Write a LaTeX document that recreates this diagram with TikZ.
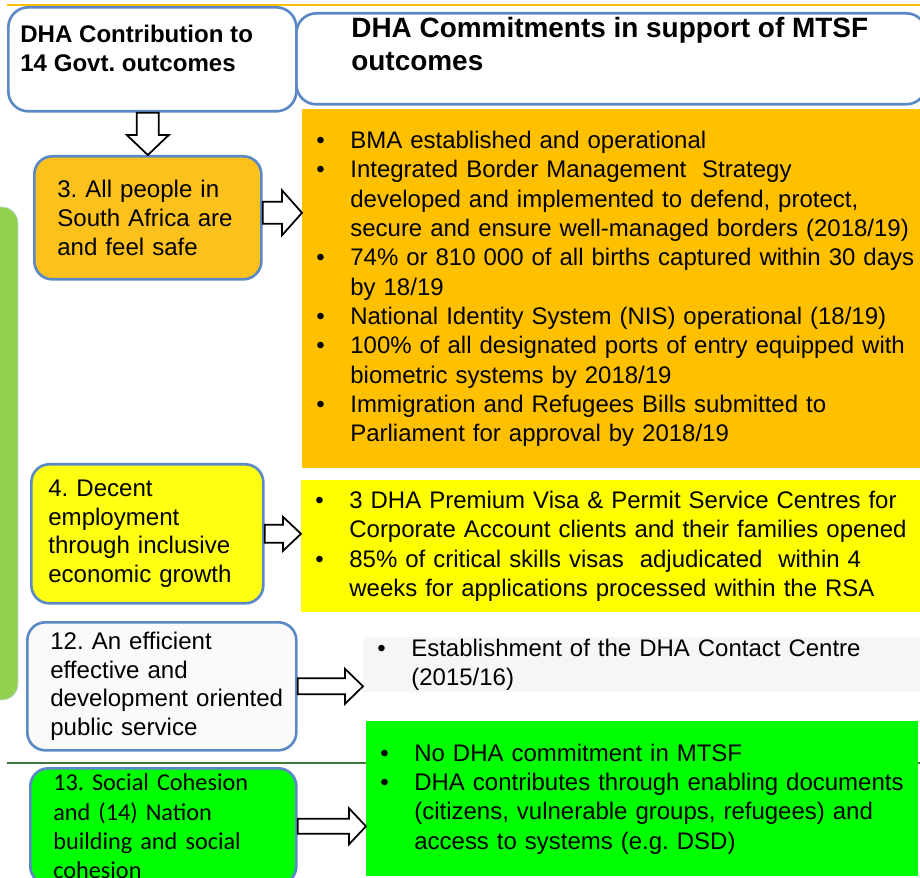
\documentclass[tikz,border=0pt]{standalone}
\usepackage{fontspec}
\setmainfont{Liberation Sans}
\newfontfamily\calibri{Carlito}
\usetikzlibrary{calc}
\frenchspacing

\definecolor{boxblue}{HTML}{5B89C6}
\definecolor{listorange}{HTML}{FFC000}
\definecolor{safeorange}{HTML}{FDC11E}
\definecolor{listyellow}{HTML}{FFFF00}
\definecolor{growthyellow}{HTML}{FFFF14}
\definecolor{cohesiongreen}{HTML}{00FF00}
\definecolor{bargreen}{HTML}{92D050}
\definecolor{servicewhite}{HTML}{FBFAF8}
\definecolor{servicegrey}{HTML}{F7F6F4}
\definecolor{rulegreen}{HTML}{3C7A3C}

% one unit = one pixel of the slide
\newlength{\px}
\setlength{\px}{0.02cm}

% bullet item, items are ended by \par
\newcommand{\itm}{\hangindent=48\px\hangafter=1\noindent\hspace*{14\px}\makebox[34\px][l]{\textbullet}}

% hollow arrow: start, end, half shaft, half head, head length
\newcommand{\blockarrow}[5]{%
	\draw[blockarrow] let \p1=#1, \p2=#2 in
		(\x1,\y1+#3) -- (\x2-#5,\y1+#3) -- (\x2-#5,\y1+#4) -- (\x2,\y1)
		-- (\x2-#5,\y1-#4) -- (\x2-#5,\y1-#3) -- (\x1,\y1-#3) -- cycle;}

\tikzset{
	header/.style={draw=boxblue, line width=1.5pt, rounded corners=20\px, fill=white, anchor=north west},
	outcome/.style={draw=boxblue, line width=1.5pt, rounded corners=18\px, anchor=north west, align=left, inner ysep=0pt, font=\fontsize{13.7}{16.3}\selectfont},
	commit/.style={anchor=north west, inner xsep=0pt, inner ysep=0pt, align=left, font=\fontsize{13.65}{16.7}\selectfont},
	blockarrow/.style={draw=black, line width=1pt, fill=white, line join=miter},
}

\begin{document}
\begin{tikzpicture}[x=0.02cm, y=-0.02cm]
		\useasboundingbox (0,0) rectangle (920,878);
		\clip (0,0) rectangle (920,878);
		\draw[listorange, line width=1pt] (7,5) -- (920,5);
		\draw[fill=bargreen, draw=boxblue!35, rounded corners=16\px] (-40,207) rectangle (18,700);
		\draw[rulegreen, line width=0.8pt] (7,763) -- (920,763);

		\node[header, minimum width=630\px, minimum height=91\px] (hm) at (295,12) {};
		\node[anchor=north west, inner sep=0pt, align=left, font=\bfseries\fontsize{15.9}{18.7}\selectfont] (hmtitle) at ($(hm.north west)+(56,5)$) {DHA Commitments in support of MTSF\\outcomes};
		\node[header, minimum width=288\px, minimum height=104\px] (hc) at (7,6) {};
		\node[anchor=north west, inner sep=0pt, align=left, font=\bfseries\fontsize{13.7}{16.4}\selectfont] (hctitle) at ($(hc.north west)+(13,19)$) {DHA Contribution to\\14 Govt. outcomes};

		\node[outcome, fill=safeorange, minimum width=227\px, minimum height=123\px, text width=181\px] (o3) at (33,155) {3. All people in\\South Africa are\\and feel safe};
		\node[outcome, fill=growthyellow, minimum width=232\px, minimum height=139\px, text width=198\px] (o4) at (30,463) {4. Decent\\employment\\through inclusive\\economic growth};
		\node[outcome, fill=servicewhite, minimum width=269\px, minimum height=128\px, text width=223\px] (o12) at (26,621) {12. An efficient\\effective and\\\mbox{development oriented}\\public service};
		\node[outcome, fill=cohesiongreen, minimum width=266\px, minimum height=116\px, text width=220\px, font=\calibri\fontsize{13.8}{16.6}\selectfont] (o13) at (29,767) {13. Social Cohesion\\and (14) Nation\\building and social\\cohesion};

		\node[commit, fill=listorange, minimum width=640\px, minimum height=359\px, text width=640\px] (l3) at (302,109) {%
			\itm BMA established and operational\par
			\itm Integrated Border Management\ \ Strategy\newline developed and implemented to defend, protect,\newline secure and ensure well-managed borders (2018/19)\par
			\itm 74\% or 810 000 of all births captured within 30 days\newline by 18/19\par
			\itm National Identity System (NIS) operational (18/19)\par
			\itm 100\% of all designated ports of entry equipped with\newline biometric systems by 2018/19\par
			\itm Immigration and Refugees Bills submitted to\newline Parliament for approval by 2018/19\par};
		\node[commit, fill=listyellow, minimum width=640\px, minimum height=132\px, text width=640\px] (l4) at (301,480) {%
			\itm 3 DHA Premium Visa \& Permit Service Centres for\newline Corporate Account clients and their families opened\par
			\itm 85\% of critical skills visas\ \ adjudicated\ \ within 4\newline weeks for applications processed within the RSA\par};
		\node[commit, fill=servicegrey, minimum width=580\px, minimum height=55\px, text width=580\px] (l12) at (363,637) {%
			\itm Establishment of the DHA Contact Centre\newline (2015/16)\par};
		\node[commit, fill=cohesiongreen, minimum width=552\px, minimum height=155\px, text width=552\px] (l13) at (366,721) {%
			\itm No DHA commitment in MTSF\par
			\itm DHA contributes through enabling documents\newline (citizens, vulnerable groups, refugees) and\newline access to systems (e.g. DSD)\par};

		\draw[blockarrow] let \p1=(hc.south), \p2=(o3.north) in
			(\x2-11\px,\y1) -- (\x2-11\px,\y2+20\px) -- (\x2-21\px,\y2+20\px) -- (\x2,\y2)
			-- (\x2+21\px,\y2+20\px) -- (\x2+11\px,\y2+20\px) -- (\x2+11\px,\y1) -- cycle;
		\blockarrow{($(o3.east)+(0,-5)$)}{(l3.west)}{11\px}{22.5\px}{20\px}
		\blockarrow{(o4.east)}{(l4.west)}{9\px}{17\px}{18\px}
		\blockarrow{(o12.east)}{(l12.west)}{8\px}{17.5\px}{18\px}
		\blockarrow{(o13.east)}{(l13.west)}{7.5\px}{18\px}{17\px}
	\end{tikzpicture}
\end{document}
